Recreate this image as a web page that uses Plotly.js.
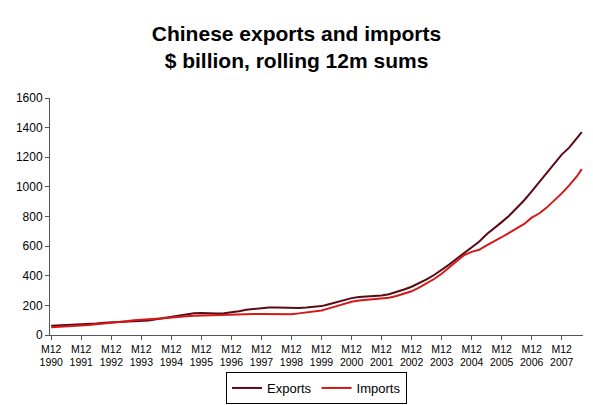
<!DOCTYPE html>
<html>
<head>
<meta charset="utf-8">
<script src="https://cdn.plot.ly/plotly-3.0.1.min.js"></script>
<style>html,body{margin:0;padding:0;background:#fff;}#chart{width:593px;height:405px;}</style>
</head>
<body>
<div id="chart"></div>
<script>
// Months (quarterly readings from the chart)
const months = [
"1990-12","1991-03","1991-06","1991-09","1991-12","1992-03","1992-06","1992-09","1992-12",
"1993-03","1993-06","1993-09","1993-12","1994-03","1994-06","1994-09","1994-12",
"1995-03","1995-06","1995-09","1995-12","1996-03","1996-06","1996-09","1996-12",
"1997-03","1997-06","1997-09","1997-12","1998-03","1998-06","1998-09","1998-12",
"1999-03","1999-06","1999-09","1999-12","2000-03","2000-06","2000-09","2000-12",
"2001-03","2001-06","2001-09","2001-12","2002-03","2002-06","2002-09","2002-12",
"2003-03","2003-06","2003-09","2003-12","2004-03","2004-06","2004-09","2004-12",
"2005-03","2005-06","2005-09","2005-12","2006-03","2006-06","2006-09","2006-12",
"2007-03","2007-06","2007-09","2007-12","2008-03","2008-06","2008-08"];
const exportsVals = [
62,64,66,69,72,75,78,82,85,
86,88,90,92,98,106,114,121,
131,141,147,149,146,145,147,151,
160,170,177,183,186,186,184,184,
182,185,190,195,208,222,236,249,
256,260,262,266,275,290,307,326,
350,375,405,438,475,515,555,593,
630,680,720,762,805,855,910,969,
1030,1090,1150,1218,1265,1330,1370];
const importsVals = [
53,55,57,60,64,67,72,76,81,
86,93,99,104,107,110,113,116,
120,126,130,132,134,136,138,139,
140,140,142,142,142,141,139,140,
146,152,160,166,180,196,211,225,
233,238,240,244,252,263,278,295,
320,348,378,413,455,500,540,561,
575,605,630,660,690,720,750,792,
820,860,905,956,1010,1070,1120];
const tickYears = ["1990","1991","1992","1993","1994","1995","1996","1997","1998","1999","2000","2001","2002","2003","2004","2005","2006","2007"];

const tickvals = tickYears.map(y => y + "-12-01");
const ticktext = tickYears.map(y => "M12<br>" + y);

const fontFam = "Liberation Sans, Arial, sans-serif";
const data = [
  {x: months, y: exportsVals, type: "scatter", mode: "lines", name: "Exports",
   line: {color: "#5a0a14", width: 2}},
  {x: months, y: importsVals, type: "scatter", mode: "lines", name: "Imports",
   line: {color: "#d41818", width: 2}}
];
const layout = {
  width: 593, height: 405,
  margin: {l: 50, r: 10, t: 98, b: 70, autoexpand: false},
  paper_bgcolor: "#fff", plot_bgcolor: "#fff",
  font: {family: fontFam, color: "#000"},
  title: {text: "Chinese exports and imports<br>$ billion, rolling 12m sums",
          font: {family: fontFam, size: 21, weight: "bold", color: "#000"},
          x: 0.5, xanchor: "center", xref: "container",
          y: 0.90, yanchor: "top", yref: "container"},
  xaxis: {type: "date", range: ["1990-11-16", "2008-08-16"], automargin: false,
          tickvals: tickvals, ticktext: ticktext, tickangle: 0,
          showgrid: false, zeroline: false, showline: true, linecolor: "#555", linewidth: 1,
          ticks: "outside", ticklen: 4, tickcolor: "#555",
          tickfont: {family: fontFam, size: 10.5, color: "#000"}},
  yaxis: {range: [0, 1600], dtick: 200, tick0: 0, automargin: false,
          showgrid: false, zeroline: false, showline: true, linecolor: "#555", linewidth: 1,
          ticks: "outside", ticklen: 4, tickcolor: "#555",
          tickfont: {family: fontFam, size: 12, color: "#000"}},
  showlegend: true,
  legend: {orientation: "h", x: 0.5, xanchor: "center", xref: "paper",
           y: -0.2236, yanchor: "middle", yref: "paper",
           bordercolor: "#000", borderwidth: 1, bgcolor: "#fff",
           font: {family: fontFam, size: 13, color: "#000"},
           itemwidth: 30, tracegroupgap: 0}
};
Plotly.newPlot("chart", data, layout, {displayModeBar: false, staticPlot: true});
</script>
</body>
</html>
